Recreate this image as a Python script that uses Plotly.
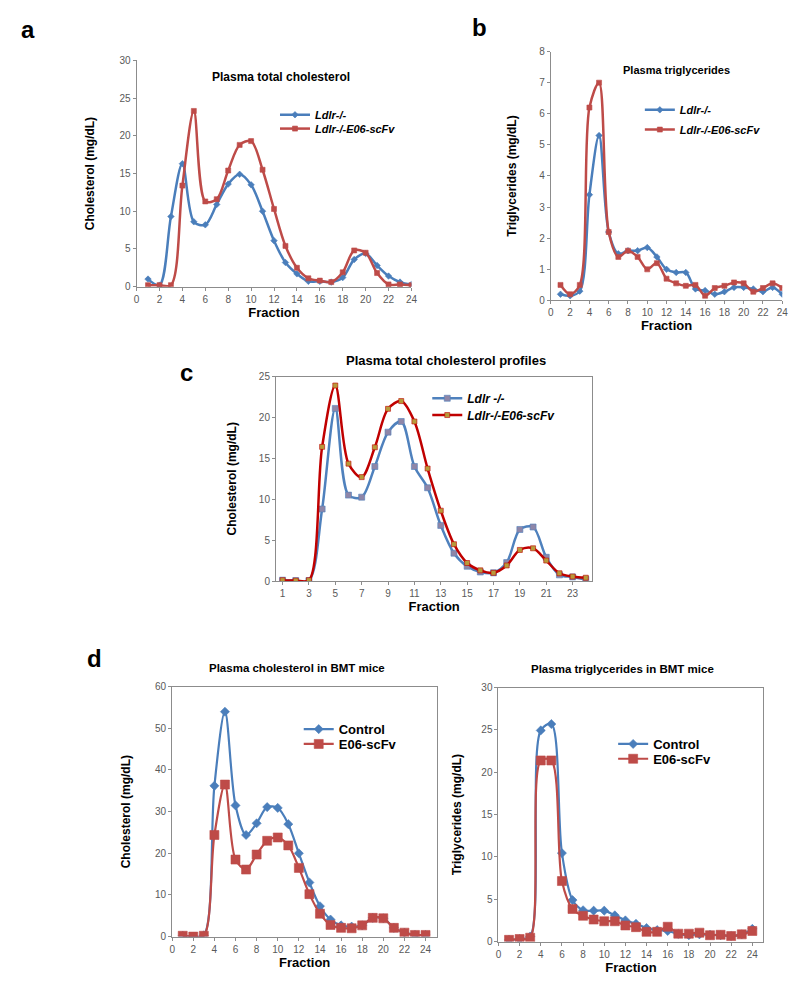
import plotly.graph_objects as go

W, H = 800, 984

fractions = list(range(1, 25))

# Panel a: Plasma total cholesterol
a_ldlr = [1.0, 0.2, 9.3, 16.3, 8.6, 8.2, 10.9, 13.6, 14.9, 13.5, 10.0, 6.1,
          3.2, 1.7, 0.7, 0.7, 0.6, 1.2, 3.6, 4.4, 2.8, 1.4, 0.6, 0.3]
a_e06 = [0.2, 0.2, 0.2, 13.4, 23.3, 11.3, 11.6, 15.4, 18.8, 19.3, 15.5, 10.3,
         5.4, 2.5, 1.1, 0.8, 0.6, 1.9, 4.8, 4.5, 1.8, 0.3, 0.3, 0.2]

# Panel b: Plasma triglycerides
b_ldlr = [0.2, 0.15, 0.3, 3.4, 5.3, 2.2, 1.5, 1.6, 1.6, 1.7, 1.4, 1.0,
          0.9, 0.9, 0.37, 0.32, 0.2, 0.28, 0.42, 0.42, 0.37, 0.28, 0.42, 0.2]
b_e06 = [0.5, 0.2, 0.5, 6.2, 7.0, 2.2, 1.4, 1.6, 1.4, 1.0, 1.2, 0.7,
         0.55, 0.47, 0.5, 0.15, 0.4, 0.47, 0.58, 0.55, 0.28, 0.4, 0.55, 0.4]

# Panel c: Plasma total cholesterol profiles
c_ldlr = [0.1, 0.05, 0.05, 8.8, 21.1, 10.5, 10.25, 14.0, 18.2, 19.5, 14.0, 11.4,
          6.8, 3.4, 1.8, 1.1, 1.0, 2.25, 6.3, 6.6, 2.9, 0.75, 0.5, 0.2]
c_e06 = [0.1, 0.05, 0.1, 16.4, 23.9, 14.35, 12.7, 16.35, 21.05, 22.0, 19.5, 13.75,
         8.6, 4.5, 2.2, 1.3, 1.0, 1.9, 3.8, 4.0, 2.5, 0.95, 0.55, 0.4]

# Panel d (left): Plasma cholesterol in BMT mice
d1_control = [0.2, 0.0, 0.3, 36.2, 54.0, 31.5, 24.4, 27.2, 31.1, 30.9, 27.0, 20.0,
              13.0, 7.3, 4.1, 2.7, 2.4, 2.7, 4.5, 4.4, 2.1, 0.95, 0.4, 0.4]
d1_e06 = [0.2, 0.0, 0.2, 24.4, 36.5, 18.5, 16.1, 19.7, 23.0, 23.8, 21.9, 16.5,
          10.2, 5.5, 2.8, 2.1, 2.0, 2.7, 4.5, 4.4, 2.1, 0.95, 0.4, 0.4]

# Panel d (right): Plasma triglycerides in BMT mice
d2_control = [0.2, 0.3, 0.6, 24.95, 25.7, 10.45, 4.9, 3.7, 3.65, 3.65, 3.1, 2.5,
              2.1, 1.6, 1.35, 1.25, 0.9, 0.75, 0.85, 0.8, 0.75, 0.65, 0.85, 1.5]
d2_e06 = [0.2, 0.3, 0.45, 21.4, 21.4, 7.15, 3.85, 3.05, 2.6, 2.4, 2.4, 1.9,
          1.7, 1.15, 1.15, 1.75, 0.93, 0.93, 1.05, 0.75, 0.8, 0.65, 0.85, 1.25]

ticks_even = list(range(0, 25, 2))
ticks_odd = list(range(1, 24, 2))

BLUE = "#4A7EBB"
RED = "#BE4B48"
FONT = "Liberation Sans, Arial, sans-serif"
TICKC = "#595959"
AXC = "#8C8C8C"


def px(x):
    return x / W


def py(y):
    return 1 - y / H


fig = go.Figure()

panels = [
    # name, xaxis, yaxis, x0, x1, ytop, ybot, xrange, yrange, xticks, ydtick, box, ytitle, ystandoff
    ("a", "x", "y", 127, 405, 47, 276, [0, 24], [0, 30], ticks_even, 5, False, "Cholesterol (mg/dL)", 22),
    ("b", "x2", "y2", 546, 780, 38, 290, [0, 24], [0, 8], ticks_even, 1, False, "Triglycerides (mg/dL)", 20),
    ("c", "x3", "y3", 268, 588, 367, 574, [0.5, 24.5], [0, 25], ticks_odd, 5, True, "Cholesterol (mg/dL)", 19),
    ("d1", "x4", "y4", 163, 431, 681, 934, [0, 25.1], [0, 60], ticks_even, 10, True, "Cholesterol (mg/dL)", 21),
    ("d2", "x5", "y5", 493, 761, 682, 939, [0, 25.05], [0, 30], ticks_even, 5, True, "Triglycerides (mg/dL)", 17),
]

series = {
    "a": [("Ldlr-/-", a_ldlr, BLUE, "diamond", 5, BLUE, 2.5),
          ("Ldlr-/-E06-scFv", a_e06, RED, "square", 5, RED, 2.5)],
    "b": [("Ldlr-/-", b_ldlr, BLUE, "diamond", 5, BLUE, 2.5),
          ("Ldlr-/-E06-scFv", b_e06, RED, "square", 5, RED, 2.5)],
    "c": [("Ldlr -/-", c_ldlr, "#4F81BD", "square", 6, "#8E86A8", 2.5),
          ("Ldlr-/-E06-scFv", c_e06, "#C00000", "square", 5, "#B89A3A", 2.5)],
    "d1": [("Control", d1_control, BLUE, "diamond", 7, BLUE, 2.2),
           ("E06-scFv", d1_e06, RED, "square", 9, RED, 2.2)],
    "d2": [("Control", d2_control, BLUE, "diamond", 7, BLUE, 2.2),
           ("E06-scFv", d2_e06, RED, "square", 9, RED, 2.2)],
}

# legend x (left) and anchor y of each legend entry, in pixels
legend_x = {"a": 267, "b": 636, "c": 421, "d1": 291, "d2": 609}
legend_y = {"a": (102, 116), "b": (97, 117), "c": (389, 406), "d1": (724, 739), "d2": (739, 754)}
legend_font = {
    "a": dict(size=11, weight="bold", style="italic"),
    "b": dict(size=11, weight="bold", style="italic"),
    "c": dict(size=12, weight="bold", style="italic"),
    "d1": dict(size=13, weight="bold"),
    "d2": dict(size=13, weight="bold"),
}

layout_updates = {}
leg_n = 0
for (name, xa, ya, x0, x1, yt, yb, xr, yr, xt, ydt, box, ytitle, ysoff) in panels:
    for i, (lab, vals, col, sym, msz, mcol, lw) in enumerate(series[name]):
        leg_n += 1
        lid = "legend" if leg_n == 1 else "legend%d" % leg_n
        fig.add_trace(go.Scatter(
            x=fractions, y=vals, name=lab, mode="lines+markers",
            xaxis=xa, yaxis=ya, legend=lid, showlegend=True,
            line=dict(color=col, width=lw, shape="spline", smoothing=0.9),
            marker=dict(symbol=sym, size=msz, color=mcol,
                        line=dict(width=0.6, color=col)),
        ))
        layout_updates[lid] = dict(
            x=px(legend_x[name]), y=py(legend_y[name][i]),
            xanchor="left", yanchor="middle",
            bgcolor="rgba(0,0,0,0)", borderwidth=0,
            font=dict(family=FONT, color="black", **legend_font[name]),
            itemwidth=30,
        )
    xkey = "xaxis" if xa == "x" else "xaxis" + xa[1:]
    ykey = "yaxis" if ya == "y" else "yaxis" + ya[1:]
    layout_updates[xkey] = dict(
        domain=[px(x0), px(x1)], range=xr, anchor=ya,
        tickmode="array", tickvals=xt,
        showgrid=False, zeroline=False,
        showline=True, linecolor=AXC, linewidth=1,
        mirror=box, ticks="outside", ticklen=3, tickcolor=AXC,
        tickfont=dict(family=FONT, size=10, color=TICKC),
        title=dict(text="Fraction", standoff=2,
                   font=dict(family=FONT, size=13, color="black", weight="bold")),
    )
    layout_updates[ykey] = dict(
        domain=[py(yb), py(yt)], range=yr, anchor=xa,
        dtick=ydt, showgrid=False, zeroline=False,
        showline=True, linecolor=AXC, linewidth=1,
        mirror=box, ticks="outside", ticklen=3, tickcolor=AXC,
        tickfont=dict(family=FONT, size=10, color=TICKC),
        title=dict(text=ytitle, standoff=ysoff,
                   font=dict(family=FONT, size=12, color="black", weight="bold")),
    )

fig.update_layout(**layout_updates)

titles = [
    ("Plasma total cholesterol", 273, 64, 12),
    ("Plasma triglycerides", 673, 57, 11),
    ("Plasma total cholesterol profiles", 440, 351, 13),
    ("Plasma cholesterol in BMT mice", 289, 662, 11.5),
    ("Plasma triglycerides in BMT mice", 618, 663, 11.5),
]
letters = [("a", 17, 16), ("b", 474, 14), ("c", 177, 363), ("d", 84, 652)]

annotations = []
for (t, x, y, s) in titles:
    annotations.append(dict(text=t, x=px(x), y=py(y), xref="paper", yref="paper",
                            showarrow=False, xanchor="center", yanchor="middle",
                            font=dict(family=FONT, size=s, color="black", weight="bold")))
for (t, x, y) in letters:
    annotations.append(dict(text=t, x=px(x), y=py(y), xref="paper", yref="paper",
                            showarrow=False, xanchor="center", yanchor="middle",
                            font=dict(family=FONT, size=24, color="black", weight="bold")))

fig.update_layout(
    width=W, height=H,
    margin=dict(l=0, r=0, t=0, b=0),
    paper_bgcolor="white", plot_bgcolor="white",
    annotations=annotations,
    font=dict(family=FONT),
    showlegend=True,
)

fig.write_html("out.html")
